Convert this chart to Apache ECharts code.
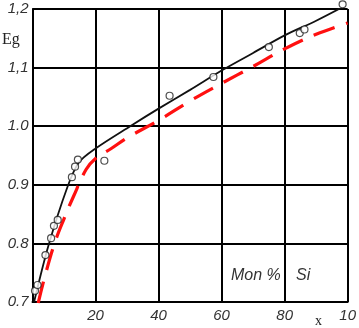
<!DOCTYPE html>
<html>
<head>
<meta charset="utf-8">
<script src="https://cdn.jsdelivr.net/npm/echarts@6/dist/echarts.min.js"></script>
<style>
html,body{margin:0;padding:0;background:#fff;}
#c{width:359px;height:328px;}
</style>
</head>
<body>
<div id="c"></div>
<script>
// Data
const xTickValues = [0, 20, 40, 60, 80, 100];
const xTickLabels = ['', '20', '40', '60', '80', '10'];
const yTickValues = [0.7, 0.8, 0.9, 1.0, 1.1, 1.2];
const yTickLabels = ['0.7', '0.8', '0.9', '1.0', '1,1', '1,2'];

// solid black curve (x = mol % Si, y = Eg)
const blackX = [0.5, 5, 11, 14.7, 20, 31, 40, 50, 60, 70, 80, 90, 99];
const blackY = [0.70, 0.795, 0.895, 0.938, 0.962, 1.0, 1.03, 1.062, 1.095, 1.125, 1.155, 1.18, 1.205];

// measured points (open circles)
const pointX = [0.8, 1.6, 4.1, 5.9, 6.8, 8.0, 12.5, 13.5, 14.4, 22.8, 43.5, 57.4, 75.0, 84.8, 86.3, 98.4];
const pointY = [0.719, 0.729, 0.780, 0.809, 0.830, 0.840, 0.913, 0.931, 0.943, 0.941, 1.052, 1.084, 1.135, 1.159, 1.165, 1.208];

// red dashed curve
const redX = [1.8, 4, 7, 10, 13, 17, 20, 25, 30, 40, 50, 60, 70, 80, 90, 100];
const redY = [0.698, 0.745, 0.80, 0.842, 0.88, 0.926, 0.945, 0.962, 0.98, 1.01, 1.043, 1.073, 1.102, 1.132, 1.157, 1.176];

const zip = (a, b) => a.map((v, i) => [v, b[i]]);

const chart = echarts.init(document.getElementById('c'), null, {renderer: 'canvas'});
const labelFont = {fontFamily: 'Liberation Sans', fontStyle: 'italic', fontSize: 15, color: '#333'};

chart.setOption({
  animation: false,
  backgroundColor: '#fff',
  grid: {left: 32.5, right: 4, top: 9, bottom: 26, containLabel: false},
  xAxis: {
    type: 'value', min: 0, max: 100, interval: 20,
    axisLine: {show: true, lineStyle: {color: '#000', width: 2}},
    axisTick: {show: false},
    splitLine: {show: true, lineStyle: {color: '#000', width: 2}},
    axisLabel: Object.assign({
      margin: 6,
      formatter: v => { const i = xTickValues.indexOf(Math.round(v)); return i >= 0 ? xTickLabels[i] : ''; }
    }, labelFont)
  },
  yAxis: {
    type: 'value', min: 0.7, max: 1.2, interval: 0.1,
    axisLine: {show: true, lineStyle: {color: '#000', width: 2}},
    axisTick: {show: false},
    splitLine: {show: true, lineStyle: {color: '#000', width: 2}},
    axisLabel: Object.assign({
      margin: 4,
      formatter: v => { const i = yTickValues.findIndex(t => Math.abs(t - v) < 1e-6); return i >= 0 ? yTickLabels[i] : ''; }
    }, labelFont)
  },
  series: [
    {
      type: 'line', data: zip(redX, redY), smooth: 0.4, showSymbol: false, symbol: 'none',
      lineStyle: {color: '#ff1010', width: 3.2, type: [22, 12]}, z: 3
    },
    {
      type: 'line', data: zip(blackX, blackY), smooth: 0.3, showSymbol: false, symbol: 'none',
      lineStyle: {color: '#111', width: 1.8}, z: 4
    },
    {
      type: 'scatter', data: zip(pointX, pointY), symbol: 'circle', symbolSize: 7, clip: false,
      itemStyle: {color: '#fff', borderColor: '#222', borderWidth: 1.2}, z: 5
    }
  ],
  graphic: [
    {type: 'text', left: 2, top: 32, style: {text: 'Eg', font: '16px "Liberation Serif"', fill: '#222'}},
    {type: 'text', left: 315, top: 314, style: {text: 'x', font: '14px "Liberation Serif"', fill: '#222'}},
    {type: 'text', left: 231, top: 268, style: {text: 'Mon %', font: 'italic 16px "Liberation Sans"', fill: '#333'}},
    {type: 'text', left: 296, top: 268, style: {text: 'Si', font: 'italic 16px "Liberation Sans"', fill: '#333'}}
  ]
});
</script>
</body>
</html>
